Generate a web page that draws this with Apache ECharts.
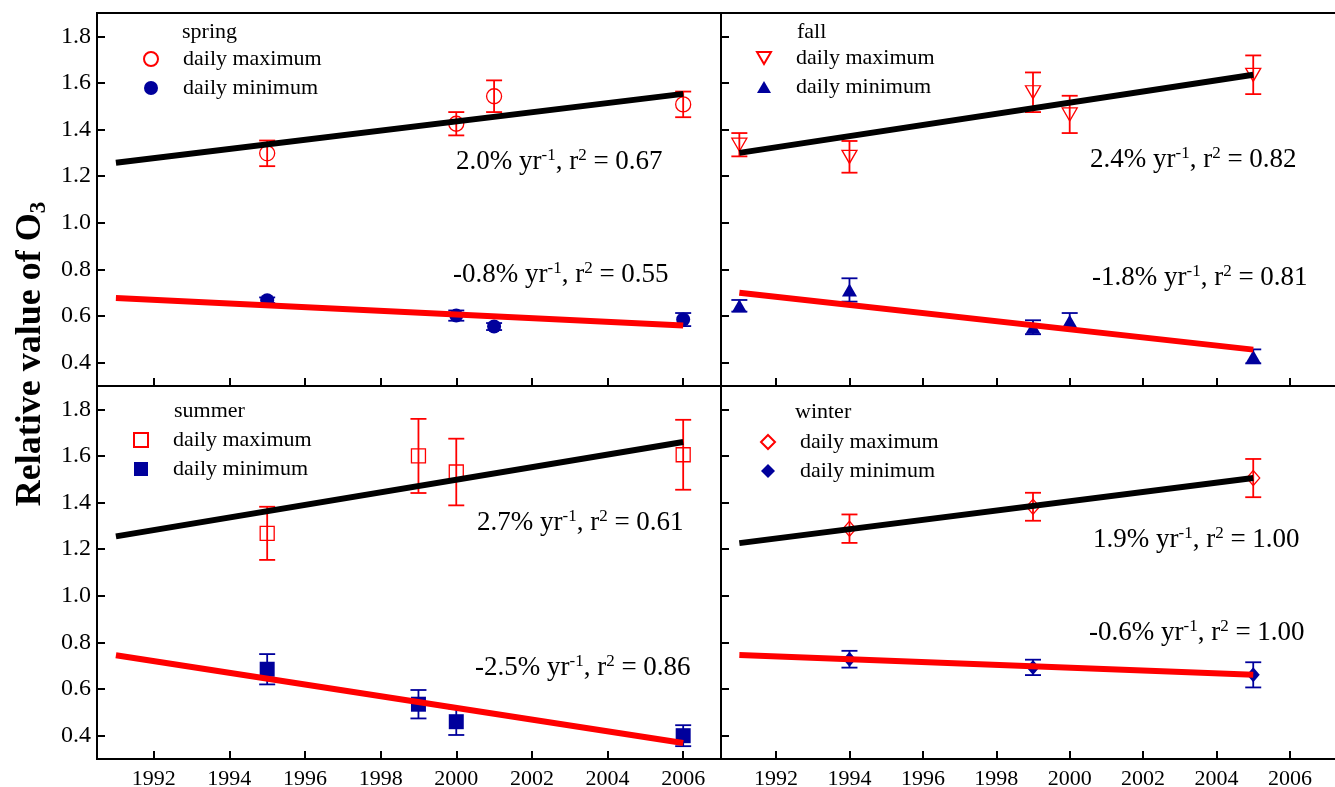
<!DOCTYPE html>
<html>
<head>
<meta charset="utf-8">
<script src="https://cdn.jsdelivr.net/npm/echarts@6/dist/echarts.min.js"></script>
<style>
  html, body { margin: 0; padding: 0; background: #fff; }
  #chart { width: 1335px; height: 787px; }
</style>
</head>
<body>
<div id="chart"></div>
<script>
// ---- tick values ----
const yTicks = [0.4, 0.6, 0.8, 1.0, 1.2, 1.4, 1.6, 1.8];
const xTicks = [1992, 1994, 1996, 1998, 2000, 2002, 2004, 2006];

// ---- spring ----
const springYears = [1995, 2000, 2001, 2006];
const springMax = [1.298, 1.425, 1.543, 1.508];
const springMaxErr = [0.055, 0.05, 0.068, 0.055];
const springMin = [0.668, 0.602, 0.555, 0.585];
const springMinErr = [0.012, 0.022, 0.015, 0.028];
const springFitYears = [1991, 2006];
const springMaxFit = [1.258, 1.553];
const springMinFit = [0.678, 0.560];
const springTrend = [['2.0', '0.67'], ['-0.8', '0.55']];

// ---- fall ----
const fallYears = [1991, 1994, 1999, 2000, 2005];
const fallMax = [1.335, 1.283, 1.560, 1.465, 1.635];
const fallMaxErr = [0.05, 0.068, 0.085, 0.08, 0.083];
const fallMin = [0.644, 0.712, 0.552, 0.578, 0.427];
const fallMinErr = [0.025, 0.05, 0.03, 0.035, 0.03];
const fallFitYears = [1991, 2005];
const fallMaxFit = [1.300, 1.635];
const fallMinFit = [0.700, 0.456];
const fallTrend = [['2.4', '0.82'], ['-1.8', '0.81']];

// ---- summer ----
const summerYears = [1995, 1999, 2000, 2006];
const summerMax = [1.268, 1.600, 1.531, 1.605];
const summerMaxErr = [0.114, 0.159, 0.143, 0.15];
const summerMin = [0.685, 0.535, 0.460, 0.400];
const summerMinErr = [0.065, 0.061, 0.057, 0.045];
const summerFitYears = [1991, 2006];
const summerMaxFit = [1.255, 1.660];
const summerMinFit = [0.745, 0.369];
const summerTrend = [['2.7', '0.61'], ['-2.5', '0.86']];

// ---- winter ----
const winterYears = [1994, 1999, 2005];
const winterMax = [1.288, 1.382, 1.505];
const winterMaxErr = [0.061, 0.06, 0.082];
const winterMin = [0.728, 0.693, 0.661];
const winterMinErr = [0.036, 0.033, 0.054];
const winterFitYears = [1991, 2005];
const winterMaxFit = [1.226, 1.505];
const winterMinFit = [0.746, 0.661];
const winterTrend = [['1.9', '1.00'], ['-0.6', '1.00']];

// ---- styling ----
const FONT = '"Liberation Serif", "Times New Roman", serif';
const RED = '#ff0000';
const BLUE = '#00009c';

const TRI_DOWN = 'path://M0,0L20,0L10,17.3Z';
const TRI_UP = 'path://M10,0L20,17.3L0,17.3Z';

const panels = [
  { season: 'spring', years: springYears, max: springMax, maxErr: springMaxErr, min: springMin, minErr: springMinErr,
    fitYears: springFitYears, maxFit: springMaxFit, minFit: springMinFit, trend: springTrend,
    maxSymbol: 'circle', minSymbol: 'circle', maxSize: 15, minSize: 14,
    grid: { left: 97, top: 13 }, xMax: 2007, showX: false, showY: true,
    legend: [150, 59], title: [182, 33], trendPos: [[456, 162], [453, 275]] },
  { season: 'fall', years: fallYears, max: fallMax, maxErr: fallMaxErr, min: fallMin, minErr: fallMinErr,
    fitYears: fallFitYears, maxFit: fallMaxFit, minFit: fallMinFit, trend: fallTrend,
    maxSymbol: TRI_DOWN, minSymbol: TRI_UP, maxSize: [15, 13], minSize: [15, 13],
    grid: { left: 721, top: 13 }, xMax: 2007.5, showX: false, showY: false,
    legend: [763, 58], title: [797, 33], trendPos: [[1090, 160], [1092, 278]] },
  { season: 'summer', years: summerYears, max: summerMax, maxErr: summerMaxErr, min: summerMin, minErr: summerMinErr,
    fitYears: summerFitYears, maxFit: summerMaxFit, minFit: summerMinFit, trend: summerTrend,
    maxSymbol: 'rect', minSymbol: 'rect', maxSize: 14, minSize: 15,
    grid: { left: 97, top: 386 }, xMax: 2007, showX: true, showY: true,
    legend: [140, 440], title: [174, 412], trendPos: [[477, 523], [475, 668]] },
  { season: 'winter', years: winterYears, max: winterMax, maxErr: winterMaxErr, min: winterMin, minErr: winterMinErr,
    fitYears: winterFitYears, maxFit: winterMaxFit, minFit: winterMinFit, trend: winterTrend,
    maxSymbol: 'diamond', minSymbol: 'diamond', maxSize: [13, 15], minSize: [13, 15],
    grid: { left: 721, top: 386 }, xMax: 2007.5, showX: true, showY: false,
    legend: [767, 442], title: [795, 413], trendPos: [[1093, 540], [1089, 633]] }
];

function errorBars(color) {
  return function (params, api) {
    const x = api.value(0);
    const lo = api.coord([x, api.value(1)]);
    const hi = api.coord([x, api.value(2)]);
    const half = 8;
    const style = { stroke: color, lineWidth: 1.8, fill: null };
    return {
      type: 'group',
      children: [
        { type: 'line', shape: { x1: hi[0], y1: hi[1], x2: lo[0], y2: lo[1] }, style },
        { type: 'line', shape: { x1: hi[0] - half, y1: hi[1], x2: hi[0] + half, y2: hi[1] }, style },
        { type: 'line', shape: { x1: lo[0] - half, y1: lo[1], x2: lo[0] + half, y2: lo[1] }, style }
      ]
    };
  };
}

const grids = [], xAxes = [], yAxes = [], series = [], legends = [], graphics = [];

panels.forEach((p, i) => {
  grids.push({ left: p.grid.left, top: p.grid.top, width: 624, height: 373,
    outerBoundsMode: 'none', containLabel: false,
    show: true, borderColor: '#000', borderWidth: 2, backgroundColor: 'transparent' });

  xAxes.push({
    gridIndex: i, type: 'value', min: 1990.5, max: p.xMax,
    axisLine: { show: true, onZero: false, lineStyle: { color: '#000', width: 2 } },
    axisTick: { show: true, inside: true, length: 8, customValues: xTicks, lineStyle: { color: '#000', width: 2 } },
    axisLabel: { show: p.showX, customValues: xTicks, margin: 9, color: '#000',
      fontFamily: FONT, fontSize: 22, formatter: v => String(v) },
    splitLine: { show: false }
  });

  yAxes.push({
    gridIndex: i, type: 'value', min: 0.3, max: 1.9,
    axisLine: { show: true, onZero: false, lineStyle: { color: '#000', width: 2 } },
    axisTick: { show: true, inside: true, length: 8, customValues: yTicks, lineStyle: { color: '#000', width: 2 } },
    axisLabel: { show: p.showY, customValues: yTicks, margin: 6, color: '#000',
      fontFamily: FONT, fontSize: 24, formatter: v => v.toFixed(1) },
    splitLine: { show: false }
  });

  const maxName = p.season + '|daily maximum';
  const minName = p.season + '|daily minimum';

  // error bars
  series.push({
    type: 'custom', xAxisIndex: i, yAxisIndex: i, z: 2, silent: true,
    renderItem: errorBars(RED), encode: { x: 0, y: [1, 2] },
    data: p.years.map((y, k) => [y, p.max[k] - p.maxErr[k], p.max[k] + p.maxErr[k]])
  });
  series.push({
    type: 'custom', xAxisIndex: i, yAxisIndex: i, z: 2, silent: true,
    renderItem: errorBars(BLUE), encode: { x: 0, y: [1, 2] },
    data: p.years.map((y, k) => [y, p.min[k] - p.minErr[k], p.min[k] + p.minErr[k]])
  });

  // points
  series.push({
    name: maxName, type: 'scatter', xAxisIndex: i, yAxisIndex: i, z: 3,
    symbol: p.maxSymbol, symbolSize: p.maxSize,
    itemStyle: { color: 'rgba(255,255,255,0)', borderColor: RED, borderWidth: 1.3, opacity: 1 },
    data: p.years.map((y, k) => [y, p.max[k]])
  });
  series.push({
    name: minName, type: 'scatter', xAxisIndex: i, yAxisIndex: i, z: 3,
    symbol: p.minSymbol, symbolSize: p.minSize,
    itemStyle: { color: BLUE, opacity: 1 },
    data: p.years.map((y, k) => [y, p.min[k]])
  });

  // fitted trends
  series.push({
    type: 'line', xAxisIndex: i, yAxisIndex: i, z: 4, silent: true, symbol: 'none',
    lineStyle: { color: '#000', width: 6, cap: 'butt' },
    data: p.fitYears.map((y, k) => [y, p.maxFit[k]])
  });
  series.push({
    type: 'line', xAxisIndex: i, yAxisIndex: i, z: 4, silent: true, symbol: 'none',
    lineStyle: { color: RED, width: 6, cap: 'butt' },
    data: p.fitYears.map((y, k) => [y, p.minFit[k]])
  });

  legends.push({
    data: [maxName, minName], orient: 'vertical',
    left: p.legend[0] - 7, top: p.legend[1] - 11,
    itemWidth: 14, itemHeight: 14, itemGap: 7, padding: 0, selectedMode: false,
    formatter: n => n.split('|')[1],
    textStyle: { fontFamily: FONT, fontSize: 22, color: '#000', lineHeight: 22, padding: [0, 0, 0, 20] }
  });

  graphics.push({
    type: 'text', left: p.title[0], top: p.title[1] - 12, z: 10,
    style: { text: p.season, font: '22px ' + FONT, fill: '#000' }
  });

  p.trend.forEach((t, k) => {
    graphics.push({
      type: 'text', x: p.trendPos[k][0], y: p.trendPos[k][1], z: 10,
      style: {
        text: '{n|' + t[0] + '% yr}{s|-1}{n|, r}{s|2}{n| = ' + t[1] + '}',
        verticalAlign: 'middle', align: 'left',
        rich: {
          n: { fontFamily: FONT, fontSize: 27, lineHeight: 30, fill: '#000' },
          s: { fontFamily: FONT, fontSize: 17, lineHeight: 11, verticalAlign: 'top', fill: '#000' }
        }
      }
    });
  });
});

// shared y-axis title
graphics.push({
  type: 'text', x: 31, y: 354, rotation: Math.PI / 2, z: 10,
  style: {
    text: '{t|Relative value of O}{s|3}',
    align: 'center', verticalAlign: 'middle',
    rich: {
      t: { fontFamily: FONT, fontWeight: 'bold', fontSize: 36, lineHeight: 40, fill: '#000' },
      s: { fontFamily: FONT, fontWeight: 'bold', fontSize: 23, lineHeight: 16, verticalAlign: 'bottom', fill: '#000' }
    }
  }
});

const chart = echarts.init(document.getElementById('chart'), null, { renderer: 'canvas' });
chart.setOption({
  backgroundColor: '#fff',
  animation: false,
  grid: grids,
  xAxis: xAxes,
  yAxis: yAxes,
  legend: legends,
  series: series,
  graphic: graphics
});
</script>
</body>
</html>
